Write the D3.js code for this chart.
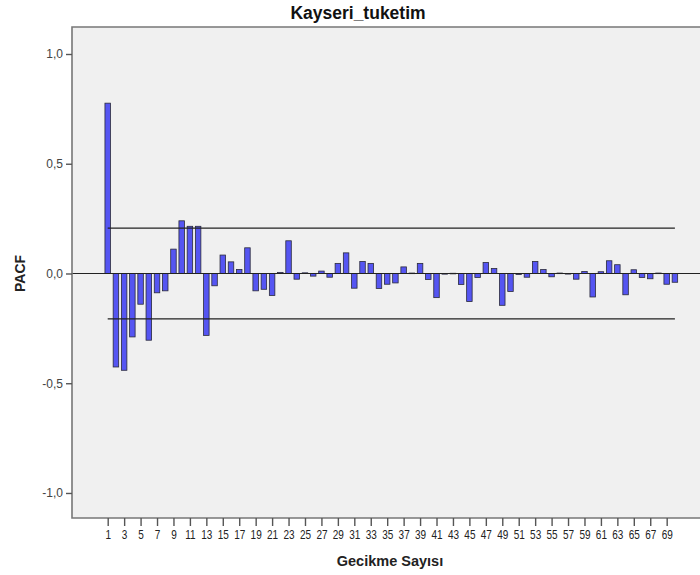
<!DOCTYPE html>
<html><head><meta charset="utf-8">
<script src="https://cdn.jsdelivr.net/npm/d3@7"></script>
<style>html,body{margin:0;padding:0;background:#fff;}</style>
</head><body>
<svg id="c" width="700" height="575"></svg>
<script>
const lags = d3.range(1, 71);
const pacf = [
  0.776, -0.426, -0.441, -0.289, -0.140, -0.304, -0.088, -0.079, 0.111, 0.240,
  0.215, 0.215, -0.282, -0.056, 0.084, 0.053, 0.018, 0.117, -0.079, -0.072,
  -0.100, 0.005, 0.149, -0.026, 0.003, -0.012, 0.011, -0.017, 0.046, 0.094,
  -0.067, 0.055, 0.046, -0.068, -0.049, -0.043, 0.030, 0.002, 0.046, -0.027,
  -0.110, -0.003, 0.001, -0.050, -0.128, -0.018, 0.050, 0.023, -0.145, -0.082,
  -0.005, -0.017, 0.055, 0.018, -0.015, 0.002, -0.002, -0.026, 0.009, -0.107,
  0.008, 0.058, 0.040, -0.097, 0.017, -0.018, -0.024, 0.002, -0.049, -0.040
];
const confLimit = 0.207;
const yTicks = [1.0, 0.5, 0.0, -0.5, -1.0];
const xTickLags = d3.range(1, 71, 2);
const title = "Kayseri_tuketim";
const xTitle = "Gecikme Sayısı";
const yTitle = "PACF";

const svg = d3.select("#c");
const mLeft = 72, mRight = 700, mTop = 27, mBottom = 518;
const x = d3.scaleLinear().domain([1, 70]).range([107.7, 674.9]);
const y = d3.scaleLinear().domain([-1.114, 1.123]).range([mBottom, mTop]);
const font = "'Liberation Sans', Arial, sans-serif";

svg.append("rect").attr("x", mLeft).attr("y", mTop).attr("width", mRight - mLeft).attr("height", mBottom - mTop).attr("fill", "#f0f0f0");

// bars
svg.append("g").selectAll("rect").data(lags).join("rect")
  .attr("x", d => x(d) - 2.75)
  .attr("width", 5.5)
  .attr("y", (d, i) => y(Math.max(0, pacf[i])))
  .attr("height", (d, i) => Math.max(0.6, Math.abs(y(pacf[i]) - y(0))))
  .attr("fill", "#5555f2")
  .attr("stroke", "#2a2a3a")
  .attr("stroke-width", 0.8);

// confidence lines
[confLimit, -confLimit].forEach(c => {
  svg.append("line").attr("x1", x(1)).attr("x2", x(70)).attr("y1", y(c)).attr("y2", y(c))
    .attr("stroke", "#222").attr("stroke-width", 1.2);
});
// zero line
svg.append("line").attr("x1", mLeft).attr("x2", mRight).attr("y1", y(0)).attr("y2", y(0))
  .attr("stroke", "#222").attr("stroke-width", 1.2);

// frame
svg.append("path").attr("d", `M${mRight},${mTop}H${mLeft}V${mBottom}H${mRight}`)
  .attr("fill", "none").attr("stroke", "#777").attr("stroke-width", 1.6);

// y axis
const yAxis = d3.axisLeft(y).tickValues(yTicks).tickSize(6).tickPadding(3)
  .tickFormat(d => d3.format(".1f")(d).replace(".", ",").replace("−", "-"));
const gy = svg.append("g").attr("transform", `translate(${mLeft},0)`).call(yAxis);
gy.select(".domain").remove();
gy.selectAll(".tick line").attr("stroke", "#555").attr("stroke-width", 1.4);
gy.selectAll(".tick text").attr("font-family", font).attr("font-size", 12).attr("fill", "#444");

// x axis
const xAxis = d3.axisBottom(x).tickValues(xTickLags).tickSize(8).tickPadding(4.4).tickFormat(d3.format("d"));
const gx = svg.append("g").attr("transform", `translate(0,${mBottom})`).call(xAxis);
gx.select(".domain").remove();
gx.selectAll(".tick line").attr("stroke", "#555").attr("stroke-width", 1.4);
gx.selectAll(".tick text").attr("font-family", font).attr("font-size", 12.5).attr("fill", "#222")
  .attr("transform", "scale(0.8,1)");

// titles
svg.append("text").attr("x", 358).attr("y", 19).attr("text-anchor", "middle")
  .attr("font-family", font).attr("font-weight", "bold").attr("font-size", 17.5).attr("fill", "#111").text(title);
svg.append("text").attr("x", 390).attr("y", 566).attr("text-anchor", "middle")
  .attr("font-family", font).attr("font-weight", "bold").attr("font-size", 14.5).attr("fill", "#222").text(xTitle);
svg.append("text").attr("transform", `translate(25,${y(0)}) rotate(-90)`).attr("text-anchor", "middle")
  .attr("font-family", font).attr("font-weight", "bold").attr("font-size", 14).attr("fill", "#222").text(yTitle);
</script>
</body></html>
